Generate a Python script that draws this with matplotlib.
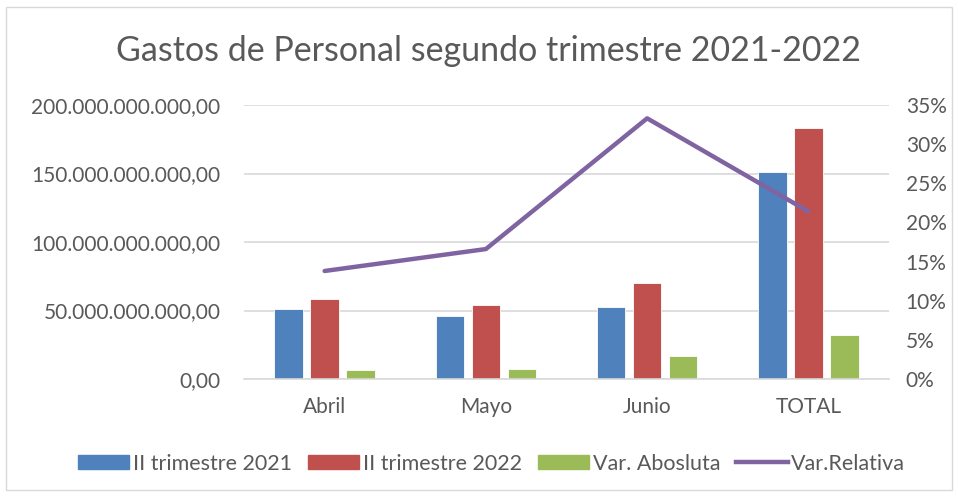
import numpy as np
import matplotlib.pyplot as plt
from matplotlib.patches import Rectangle
from matplotlib.ticker import FuncFormatter, MultipleLocator
from matplotlib.lines import Line2D
from matplotlib.patches import Patch

plt.rcParams['font.family'] = ['Lato', 'DejaVu Sans']

categories = ["Abril", "Mayo", "Junio", "TOTAL"]
trim_2021 = [51.1e9, 46.2e9, 52.3e9, 150.8e9]
trim_2022 = [58.4e9, 54.0e9, 70.1e9, 183.2e9]
var_abs = [6.8e9, 7.3e9, 17.0e9, 32.1e9]
var_rel = [13.8, 16.6, 33.3, 21.4]

c_blue = "#4F81BD"
c_red = "#C0504D"
c_green = "#9BBB59"
c_purple = "#8064A2"
txt = "#595959"

fig = plt.figure(figsize=(9.58, 4.97), dpi=100)
fig.patches.append(Rectangle((0.006, 0.014), 0.988, 0.972, transform=fig.transFigure,
                             fill=False, edgecolor="#d9d9d9", linewidth=1))

ax = fig.add_axes([0.2547, 0.2374, 0.6733, 0.5513])
x = np.arange(len(categories))
w = 0.177
off = 0.2236
ax.bar(x - off, trim_2021, w, color=c_blue, edgecolor="white", linewidth=0.6, zorder=2)
ax.bar(x, trim_2022, w, color=c_red, edgecolor="white", linewidth=0.6, zorder=2)
ax.bar(x + off, var_abs, w, color=c_green, edgecolor="white", linewidth=0.6, zorder=2)

ax.set_xlim(-0.5, 3.5)
ax.set_ylim(0, 200e9)
ax.yaxis.set_major_locator(MultipleLocator(50e9))


def fmt_es(v, pos):
    s = "{:,.2f}".format(v)
    return s.replace(",", "X").replace(".", ",").replace("X", ".")


ax.yaxis.set_major_formatter(FuncFormatter(fmt_es))
ax.grid(axis="y", color="#d9d9d9", linewidth=1.2, zorder=0)
ax.set_axisbelow(True)
for s in ["top", "right", "left"]:
    ax.spines[s].set_visible(False)
ax.spines["bottom"].set_color("#d9d9d9")
ax.spines["bottom"].set_linewidth(1.2)
ax.tick_params(axis="both", length=0, labelsize=15, labelcolor=txt)
ax.tick_params(axis="y", pad=17)
ax.tick_params(axis="x", pad=13)
ax.set_xticks(x)
ax.set_xticklabels(categories)

ax2 = ax.twinx()
ax2.plot(x, var_rel, color=c_purple, linewidth=3.2, solid_capstyle="round", zorder=3)
ax2.set_ylim(0, 35)
ax2.yaxis.set_major_locator(MultipleLocator(5))
ax2.yaxis.set_major_formatter(FuncFormatter(lambda v, p: "{:.0f}%".format(v)))
for s in ["top", "right", "left", "bottom"]:
    ax2.spines[s].set_visible(False)
ax2.tick_params(axis="y", length=0, labelsize=15, labelcolor=txt, pad=12)

fig.text(0.51, 0.898, "Gastos de Personal segundo trimestre 2021-2022",
         ha="center", va="center", fontsize=24.5, color=txt)

handles = [Patch(color=c_blue), Patch(color=c_red), Patch(color=c_green),
           Line2D([0], [0], color=c_purple, linewidth=3.2)]
labels = ["II trimestre 2021", "II trimestre 2022", "Var. Abosluta", "Var.Relativa"]
fig.legend(handles, labels, loc="center", bbox_to_anchor=(0.513, 0.067), ncol=4,
           frameon=False, fontsize=15.5, labelcolor=txt, handlelength=2.4,
           handleheight=0.65, handletextpad=0.15, columnspacing=0.75)

fig.savefig("out.png", dpi=100)
